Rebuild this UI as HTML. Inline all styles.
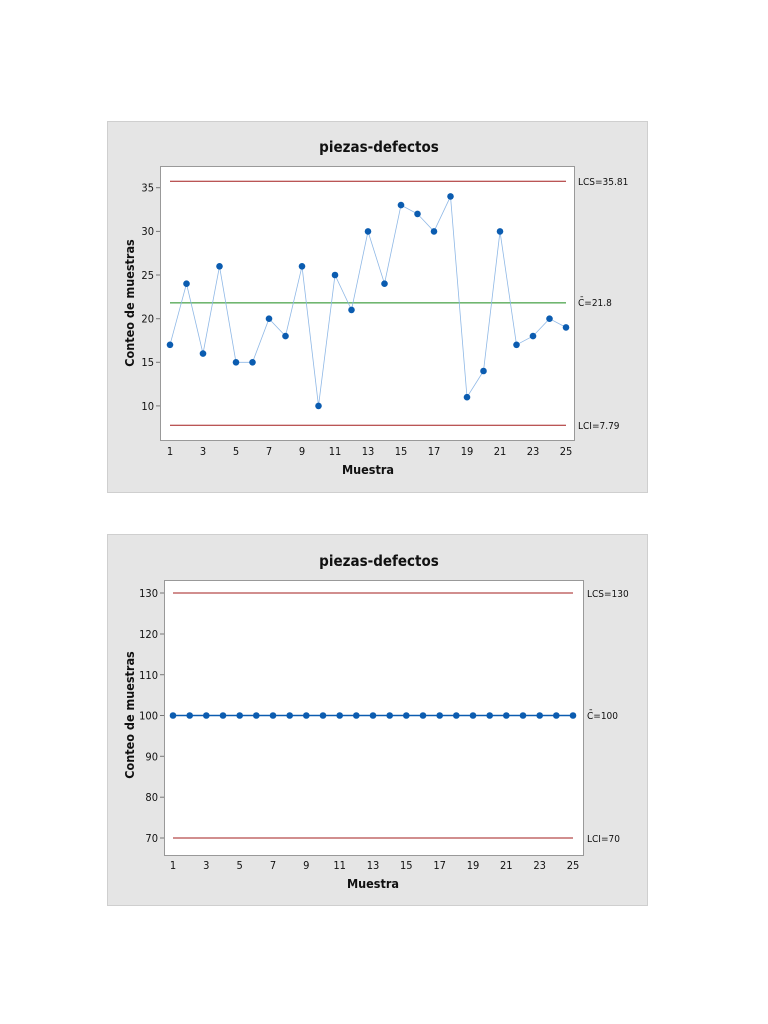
<!DOCTYPE html>
<html><head><meta charset="utf-8"><style>
html,body{margin:0;padding:0;background:#fff;width:768px;height:1024px;overflow:hidden}
svg{position:absolute;left:0;top:0}
text{font-family:"DejaVu Sans Condensed","Liberation Sans",sans-serif;fill:#111}
.t{font-size:11px}
.r{font-size:10px}
.ti{font-size:15px;font-weight:bold}
.ax{font-size:12.5px;font-weight:bold}
</style></head><body>
<svg width="768" height="1024" xmlns="http://www.w3.org/2000/svg">
<!-- Chart 1 -->
<rect x="107.5" y="121.5" width="540" height="371" fill="#e5e5e5" stroke="#cfcfcf"/>
<rect x="160.5" y="166.5" width="414" height="274" fill="#fff" stroke="#999"/>
<text x="379" y="152" class="ti" text-anchor="middle">piezas-defectos</text>
<line x1="170" y1="181.3" x2="566" y2="181.3" stroke="#a31d1d" stroke-width="1"/>
<line x1="170" y1="302.9" x2="566" y2="302.9" stroke="#1a8a1a" stroke-width="1"/>
<line x1="170" y1="425.2" x2="566" y2="425.2" stroke="#a31d1d" stroke-width="1"/>
<text x="578" y="185" class="r">LCS=35.81</text>
<text x="578" y="306" class="r">C̄=21.8</text>
<text x="578" y="429" class="r">LCI=7.79</text>
<g class="t" text-anchor="end">
<line x1="156" y1="187.7" x2="160" y2="187.7" stroke="#777"/><text x="154" y="191.5">35</text>
<line x1="156" y1="231.4" x2="160" y2="231.4" stroke="#777"/><text x="154" y="235">30</text>
<line x1="156" y1="275" x2="160" y2="275" stroke="#777"/><text x="154" y="279">25</text>
<line x1="156" y1="318.7" x2="160" y2="318.7" stroke="#777"/><text x="154" y="322.5">20</text>
<line x1="156" y1="362.3" x2="160" y2="362.3" stroke="#777"/><text x="154" y="366">15</text>
<line x1="156" y1="405.9" x2="160" y2="405.9" stroke="#777"/><text x="154" y="410">10</text>
</g>
<g class="t" text-anchor="middle">
<text x="170" y="455">1</text><text x="203" y="455">3</text><text x="236" y="455">5</text><text x="269" y="455">7</text><text x="302" y="455">9</text><text x="335" y="455">11</text><text x="368" y="455">13</text><text x="401" y="455">15</text><text x="434" y="455">17</text><text x="467" y="455">19</text><text x="500" y="455">21</text><text x="533" y="455">23</text><text x="566" y="455">25</text>
</g>
<text x="368" y="474" class="ax" text-anchor="middle">Muestra</text>
<text transform="translate(134,303) rotate(-90)" class="ax" text-anchor="middle">Conteo de muestras</text>
<polyline fill="none" stroke="#8fb8e6" stroke-width="0.8" points="170,344.8 186.5,283.7 203,353.6 219.5,266.3 236,362.3 252.5,362.3 269,318.7 285.5,336.1 302,266.3 318.5,405.9 335,275 351.5,309.9 368,231.4 384.5,283.7 401,205.1 417.5,213.9 434,231.4 450.5,196.4 467,397.2 483.5,371 500,231.4 516.5,344.8 533,336.1 549.5,318.7 566,327.4"/>
<g fill="#0b5cb0">
<circle cx="170" cy="344.8" r="3.3"/><circle cx="186.5" cy="283.7" r="3.3"/><circle cx="203" cy="353.6" r="3.3"/><circle cx="219.5" cy="266.3" r="3.3"/><circle cx="236" cy="362.3" r="3.3"/><circle cx="252.5" cy="362.3" r="3.3"/><circle cx="269" cy="318.7" r="3.3"/><circle cx="285.5" cy="336.1" r="3.3"/><circle cx="302" cy="266.3" r="3.3"/><circle cx="318.5" cy="405.9" r="3.3"/><circle cx="335" cy="275" r="3.3"/><circle cx="351.5" cy="309.9" r="3.3"/><circle cx="368" cy="231.4" r="3.3"/><circle cx="384.5" cy="283.7" r="3.3"/><circle cx="401" cy="205.1" r="3.3"/><circle cx="417.5" cy="213.9" r="3.3"/><circle cx="434" cy="231.4" r="3.3"/><circle cx="450.5" cy="196.4" r="3.3"/><circle cx="467" cy="397.2" r="3.3"/><circle cx="483.5" cy="371" r="3.3"/><circle cx="500" cy="231.4" r="3.3"/><circle cx="516.5" cy="344.8" r="3.3"/><circle cx="533" cy="336.1" r="3.3"/><circle cx="549.5" cy="318.7" r="3.3"/><circle cx="566" cy="327.4" r="3.3"/>
</g>

<!-- Chart 2 -->
<rect x="107.5" y="534.5" width="540" height="371" fill="#e5e5e5" stroke="#cfcfcf"/>
<rect x="164.5" y="580.5" width="419" height="275" fill="#fff" stroke="#999"/>
<text x="379" y="566" class="ti" text-anchor="middle">piezas-defectos</text>
<line x1="173" y1="593" x2="573" y2="593" stroke="#a31d1d"/>
<line x1="173" y1="838" x2="573" y2="838" stroke="#a31d1d"/>
<line x1="173" y1="715.5" x2="573" y2="715.5" stroke="#1a8a1a"/>
<line x1="173" y1="715.5" x2="573" y2="715.5" stroke="#0b5cb0" stroke-width="1.5"/>
<text x="587" y="597" class="r">LCS=130</text>
<text x="587" y="719" class="r">C̄=100</text>
<text x="587" y="842" class="r">LCI=70</text>
<g class="t" text-anchor="end">
<line x1="160" y1="593" x2="164" y2="593" stroke="#777"/><text x="158" y="597">130</text>
<line x1="160" y1="634" x2="164" y2="634" stroke="#777"/><text x="158" y="638">120</text>
<line x1="160" y1="674.7" x2="164" y2="674.7" stroke="#777"/><text x="158" y="679">110</text>
<line x1="160" y1="715.5" x2="164" y2="715.5" stroke="#777"/><text x="158" y="719.5">100</text>
<line x1="160" y1="756.3" x2="164" y2="756.3" stroke="#777"/><text x="158" y="760.5">90</text>
<line x1="160" y1="797.2" x2="164" y2="797.2" stroke="#777"/><text x="158" y="801">80</text>
<line x1="160" y1="838" x2="164" y2="838" stroke="#777"/><text x="158" y="842">70</text>
</g>
<g class="t" text-anchor="middle">
<text x="173" y="869">1</text><text x="206.3" y="869">3</text><text x="239.7" y="869">5</text><text x="273" y="869">7</text><text x="306.3" y="869">9</text><text x="339.7" y="869">11</text><text x="373" y="869">13</text><text x="406.3" y="869">15</text><text x="439.7" y="869">17</text><text x="473" y="869">19</text><text x="506.3" y="869">21</text><text x="539.7" y="869">23</text><text x="573" y="869">25</text>
</g>
<text x="373" y="888" class="ax" text-anchor="middle">Muestra</text>
<text transform="translate(134,715) rotate(-90)" class="ax" text-anchor="middle">Conteo de muestras</text>
<g fill="#0b5cb0">
<circle cx="173" cy="715.5" r="3.3"/><circle cx="189.7" cy="715.5" r="3.3"/><circle cx="206.3" cy="715.5" r="3.3"/><circle cx="223" cy="715.5" r="3.3"/><circle cx="239.7" cy="715.5" r="3.3"/><circle cx="256.3" cy="715.5" r="3.3"/><circle cx="273" cy="715.5" r="3.3"/><circle cx="289.7" cy="715.5" r="3.3"/><circle cx="306.3" cy="715.5" r="3.3"/><circle cx="323" cy="715.5" r="3.3"/><circle cx="339.7" cy="715.5" r="3.3"/><circle cx="356.3" cy="715.5" r="3.3"/><circle cx="373" cy="715.5" r="3.3"/><circle cx="389.7" cy="715.5" r="3.3"/><circle cx="406.3" cy="715.5" r="3.3"/><circle cx="423" cy="715.5" r="3.3"/><circle cx="439.7" cy="715.5" r="3.3"/><circle cx="456.3" cy="715.5" r="3.3"/><circle cx="473" cy="715.5" r="3.3"/><circle cx="489.7" cy="715.5" r="3.3"/><circle cx="506.3" cy="715.5" r="3.3"/><circle cx="523" cy="715.5" r="3.3"/><circle cx="539.7" cy="715.5" r="3.3"/><circle cx="556.3" cy="715.5" r="3.3"/><circle cx="573" cy="715.5" r="3.3"/>
</g>
</svg>
</body></html>
